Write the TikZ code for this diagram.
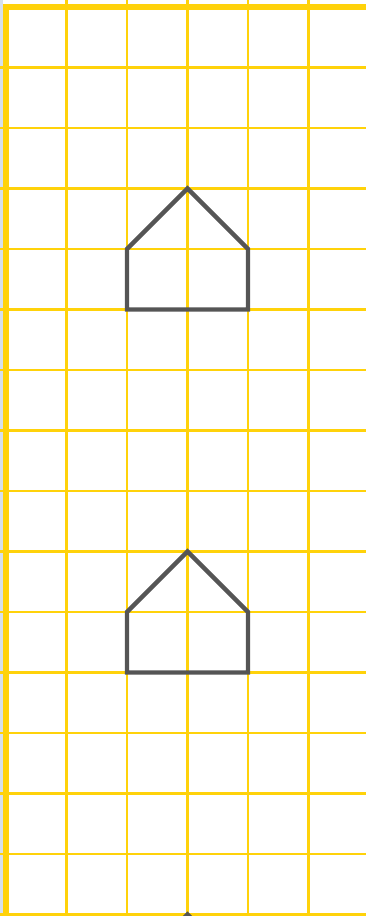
\documentclass[tikz,border=0pt]{standalone}
\usepackage{tikz}
\definecolor{gridYellow}{RGB}{255,210,10}
\definecolor{houseGray}{RGB}{85,85,85}
\definecolor{edgeBlue}{RGB}{214,224,236}
\begin{document}
\begin{tikzpicture}[x=1cm, y=1cm,
    gridline/.style={gridYellow, line width=1pt},
    borderline/.style={gridYellow, line width=2.9pt},
    house/.style={houseGray, line width=2.1pt, line join=miter}]
      \useasboundingbox (-0.099,-0.025) rectangle (5.950,15.116);
      \clip (-0.099,-0.025) rectangle (5.950,15.116);
      % paper edge
      \fill[edgeBlue] (-0.099,-0.025) rectangle (-0.05,15.116);
      % squared paper
      \foreach \x in {1,...,5}
        \draw[gridline] (\x,-0.1) -- (\x,15.2);
      \foreach \y in {0,...,14}
        \draw[gridline] (-0.1,\y) -- (6.1,\y);
      \draw[borderline] (0,-0.1) -- (0,15.05);
      \draw[borderline] (-0.05,15) -- (6.1,15);
      % houses, one every six squares
      \foreach \b in {-2,4,10}
        \draw[house] (2,\b) -- (4,\b) -- (4,\b+1) -- (3,\b+2) -- (2,\b+1) -- cycle;
\end{tikzpicture}
\end{document}
